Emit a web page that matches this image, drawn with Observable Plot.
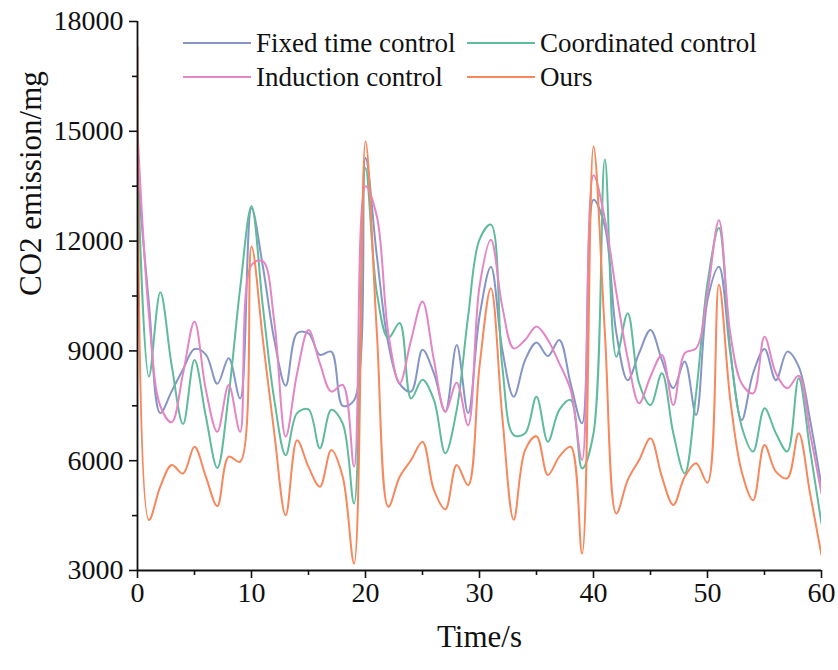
<!DOCTYPE html>
<html>
<head>
<meta charset="utf-8">
<script src="https://cdn.jsdelivr.net/npm/d3@7"></script>
<script src="https://cdn.jsdelivr.net/npm/@observablehq/plot@0.6"></script>
<style>
  body { margin: 0; background: #fff; }
  #wrap { position: relative; width: 838px; height: 670px; font-family: "Liberation Serif", "Times New Roman", serif; }
  .leg { position: absolute; display: flex; align-items: center; font-size: 27px; white-space: nowrap; color: #111; }
  .leg .sw { width: 68px; height: 0; border-top: 2.5px solid; margin-right: 5px; }
</style>
</head>
<body>
<div id="wrap"></div>
<script>
const time = [0,1,2,3,4,5,6,7,8,9,10,11,12,13,14,15,16,17,18,19,20,21,22,23,24,25,26,27,28,29,30,31,32,33,34,35,36,37,38,39,40,41,42,43,44,45,46,47,48,49,50,51,52,53,54,55,56,57,58,59,60];

const fixedTime = [13800,10300,7300,7900,8500,9050,8900,8100,8800,7700,
  12900,11300,9300,8050,9480,9480,8890,8980,7500,7650,
  14270,11580,9200,8100,7890,9030,8390,7340,9160,7300,
  9940,11300,9030,7750,8750,9230,8860,9300,8100,7020,
  13130,12400,9500,8200,8940,9570,8750,7980,8710,7250,
  10390,11300,8940,7110,8390,9050,8200,8980,8570,7110,5290];

const coordinated = [14200,8300,10600,8600,7000,8750,7200,5800,7800,10700,
  12950,10200,7660,6150,7300,7400,6340,7390,7020,4830,
  14000,10580,9350,9760,7700,8210,7660,6200,7390,9940,
  12040,12450,8570,6700,6750,7750,6520,7390,7660,5790,
  6750,14230,8840,10030,8120,7520,8390,6750,5650,7840,
  10850,12360,9030,6930,6250,7430,6750,6250,8250,6290,4280];

const induction = [15000,10000,7500,7050,8390,9800,7930,6790,8070,6790,
  11350,11450,9800,6660,8390,9570,8660,7890,8070,5840,
  13500,12670,9480,8110,9300,10350,8750,7340,8130,6970,
  10760,12040,10210,9070,9300,9670,9300,8660,7930,6020,
  13800,12600,10600,8800,7570,8300,8890,7520,8940,9070,
  10580,12570,9480,8110,7840,9390,8390,7980,8320,6750,5110];

const ours = [17300,4380,5290,5880,5650,6380,5560,4760,6110,5970,
  11850,9300,6750,4510,6560,5830,5290,6290,5560,3190,
  14730,9480,4740,5560,6020,6520,5200,4670,5880,5330,
  8570,10710,7200,4390,6290,6670,5610,6110,6380,3460,
  14590,9480,4560,5470,6020,6610,5560,4790,5560,5930,
  5400,10810,7660,5700,4920,6430,5700,5520,6750,5100,3420];

const seriesNames = ["Fixed time control", "Coordinated control", "Induction control", "Ours"];
const seriesColors = ["#8596c6", "#5fbb9c", "#e286c6", "#f7875c"];
const xDomain = [0, 60];
const yDomain = [3000, 18000];
const xTicks = [0, 10, 20, 30, 40, 50, 60];
const xMinorTicks = [5, 15, 25, 35, 45, 55];
const yTicks = [3000, 6000, 9000, 12000, 15000, 18000];
const yMinorTicks = [4500, 7500, 10500, 13500, 16500];
const xLabel = "Time/s";
const yLabel = "CO2 emission/mg";

const allSeries = [fixedTime, coordinated, induction, ours];
const rows = [];
allSeries.forEach((vals, si) => {
  vals.forEach((v, i) => rows.push({t: time[i], v, series: seriesNames[si]}));
});

const chart = Plot.plot({
  width: 838,
  height: 670,
  marginLeft: 137,
  marginRight: 17,
  marginTop: 21,
  marginBottom: 100,
  x: {domain: xDomain},
  y: {domain: yDomain},
  color: {domain: seriesNames, range: seriesColors},
  style: {fontFamily: "Liberation Serif", fontSize: "28px", background: "white", color: "#111", overflow: "visible"},
  marks: [
    Plot.line(rows, {x: "t", y: "v", z: "series", stroke: "series", strokeWidth: 2, curve: "catmull-rom", clip: true}),
    Plot.axisX({ticks: xTicks, tickSize: 8, tickPadding: 4, strokeWidth: 1.6, label: null, fontSize: 28}),
    Plot.axisX({ticks: xMinorTicks, tickSize: 5, strokeWidth: 1.6, tickFormat: () => "", label: null}),
    Plot.axisY({ticks: yTicks, tickSize: 8, tickPadding: 6, strokeWidth: 1.6, label: null, fontSize: 28, tickFormat: d => String(d)}),
    Plot.axisY({ticks: yMinorTicks, tickSize: 5, strokeWidth: 1.6, tickFormat: () => "", label: null}),
    Plot.ruleX([xDomain[0]], {strokeWidth: 1.8}),
    Plot.ruleY([yDomain[0]], {strokeWidth: 1.8}),
    Plot.text([xLabel], {frameAnchor: "bottom", dy: 76, fontSize: 31}),
    Plot.text([yLabel], {frameAnchor: "left", dx: -106, rotate: -90, fontSize: 31})
  ]
});

const wrap = document.getElementById("wrap");
wrap.appendChild(chart);

const legendCols = [183, 467];
const legendRows = [43, 77];
seriesNames.forEach((name, i) => {
  const item = document.createElement("div");
  item.className = "leg";
  item.style.left = legendCols[i % 2] + "px";
  item.style.top = (legendRows[Math.floor(i / 2)] - 17) + "px";
  item.style.height = "34px";
  const sw = document.createElement("span");
  sw.className = "sw";
  sw.style.borderTopColor = seriesColors[i];
  const label = document.createElement("span");
  label.textContent = name;
  item.appendChild(sw);
  item.appendChild(label);
  wrap.appendChild(item);
});
</script>
</body>
</html>
